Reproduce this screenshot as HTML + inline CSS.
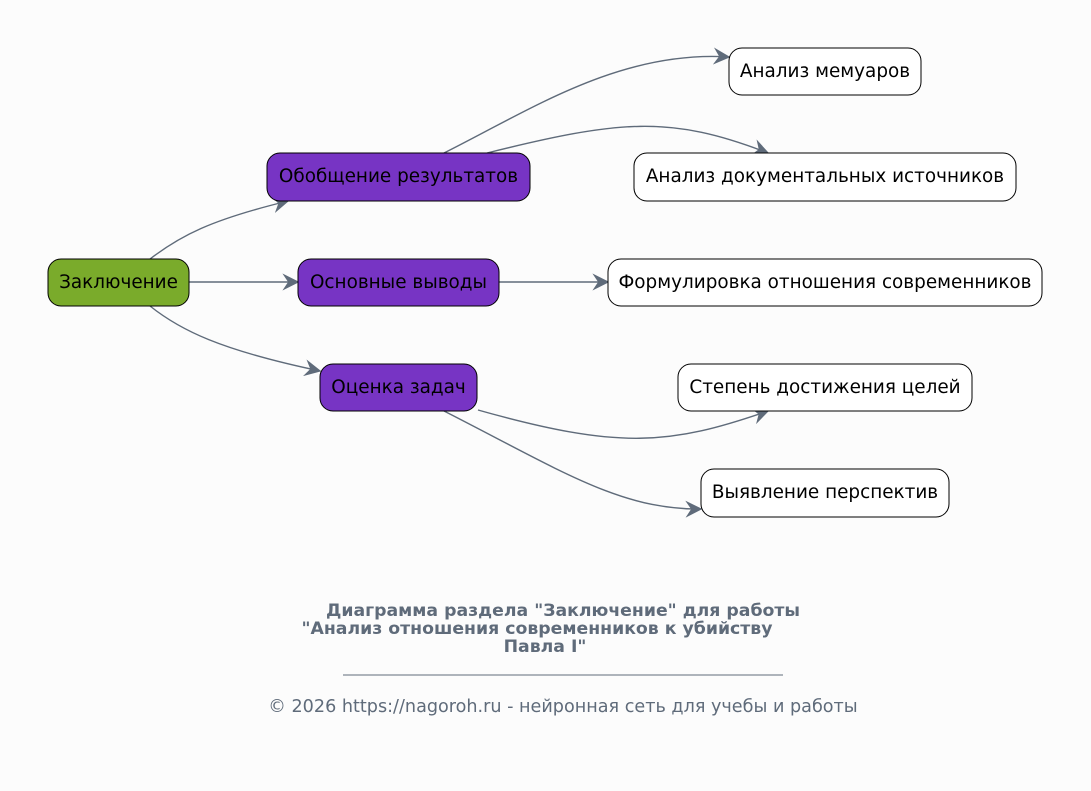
<!DOCTYPE html>
<html><head><meta charset="utf-8"><style>
html,body{margin:0;padding:0;background:#fcfcfc;}
svg{display:block;font-family:"DejaVu Sans","Liberation Sans",sans-serif;}
</style></head><body>
<svg width="1091" height="791" viewBox="0 0 1091 791" xmlns="http://www.w3.org/2000/svg">
<defs>
<marker id="a" viewBox="0 0 12 12" refX="11" refY="6" markerWidth="17" markerHeight="17" markerUnits="userSpaceOnUse" orient="auto">
<path d="M0,0 L12,6 L0,12 L4,6 z" fill="#5f6b7a"/>
</marker>
</defs>
<g fill="none" stroke="#5f6b7a" stroke-width="1.4" marker-end="url(#a)">
<path d="M150,259 C180,236 210,220 288,201"/>
<path d="M189,282 L298,282"/>
<path d="M150,306 C180,330 220,350 320,371"/>
<path d="M444,153 C530,110 620,50 729,57"/>
<path d="M487,153 C620,120 670,115 768,153"/>
<path d="M499,282 L608,282"/>
<path d="M478,410 C620,450 670,445 768,411"/>
<path d="M444,411 C560,470 620,510 701,509"/>
</g>
<g stroke="#000" stroke-width="1">
<rect x="48" y="259" width="141" height="47" rx="13" fill="#7aab2b"/>
<rect x="267" y="153" width="263" height="48" rx="13" fill="#7734c4"/>
<rect x="298" y="259" width="201" height="47" rx="13" fill="#7734c4"/>
<rect x="320" y="364" width="157" height="47" rx="13" fill="#7734c4"/>
<rect x="729" y="48" width="192" height="47" rx="13" fill="#fff"/>
<rect x="634" y="153" width="382" height="48" rx="13" fill="#fff"/>
<rect x="608" y="259" width="434" height="47" rx="13" fill="#fff"/>
<rect x="678" y="364" width="294" height="47" rx="13" fill="#fff"/>
<rect x="701" y="469" width="248" height="48" rx="13" fill="#fff"/>
</g>
<g font-size="18.4" fill="#000" text-anchor="middle">
<text x="118.5" y="288">Заключение</text>
<text x="398.5" y="182">Обобщение результатов</text>
<text x="398.5" y="288">Основные выводы</text>
<text x="398.5" y="393">Оценка задач</text>
<text x="825" y="77">Анализ мемуаров</text>
<text x="825" y="182">Анализ документальных источников</text>
<text x="825" y="288">Формулировка отношения современников</text>
<text x="825" y="393">Степень достижения целей</text>
<text x="825" y="498">Выявление перспектив</text>
</g>
<g fill="#5f6b7a" text-anchor="middle">
<text x="563" y="616" font-size="17.3" font-weight="bold">Диаграмма раздела "Заключение" для работы</text>
<text x="537" y="634" font-size="17.3" font-weight="bold">"Анализ отношения современников к убийству</text>
<text x="545" y="652" font-size="17.3" font-weight="bold">Павла I"</text>
<text x="563" y="712" font-size="17.6">© 2026 https://nagoroh.ru - нейронная сеть для учебы и работы</text>
</g>
<line x1="343" y1="675" x2="783" y2="675" stroke="#5f6b7a" stroke-width="1"/>
</svg>
</body></html>
